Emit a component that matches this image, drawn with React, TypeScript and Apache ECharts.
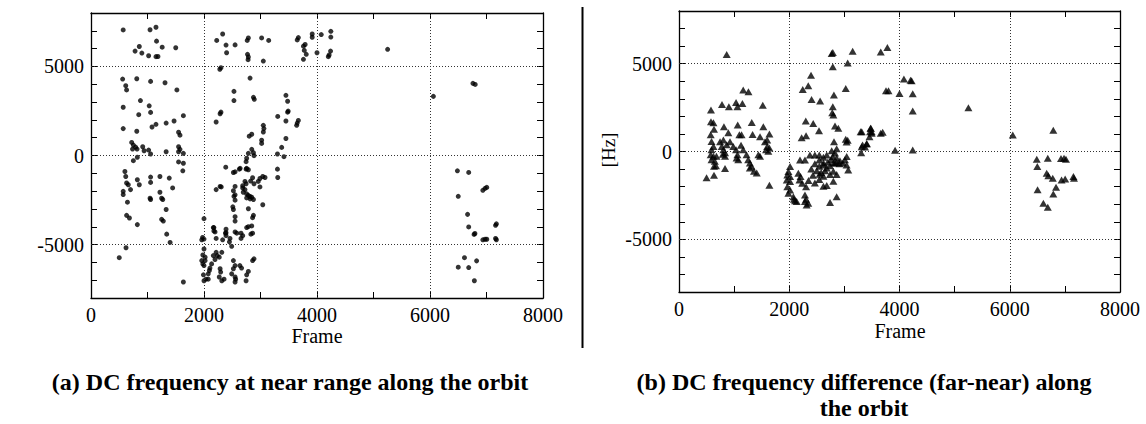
import React, { useEffect, useRef } from "react";
import * as echarts from "echarts";

const FONT = "Liberation Serif, Times New Roman, serif";

const frameRange = [0, 8000];
const hzRange = [-8000, 8000];
const gridFrames = [2000, 4000, 6000];
const gridHz = [-5000, 0, 5000];
const frameLabelStep = 2000;
const hzLabelStep = 5000;

const axisNames = { frame: "Frame", hz: "[Hz]" };
const captionA = "(a) DC frequency at near range along the orbit";
const captionB1 = "(b) DC frequency difference (far-near) along";
const captionB2 = "the orbit";

// (a) DC frequency at near range: [frame, Hz]
const nearRangePoints: [number, number][] = [
  [570, 7050], [1045, 7060], [1150, 7200], [1160, 6420], [1260, 6080], [1500, 6050], [855, 6120], [780, 5860],
  [900, 5750], [1020, 5600], [1150, 5550], [1185, 5560],
  [2225, 6460], [2330, 6820], [2390, 6200], [2400, 5770], [2550, 6210], [2785, 6600], [2765, 6460], [2770, 5680],
  [2785, 5530], [2780, 5380], [3020, 6600], [3145, 6460], [3050, 5300], [2280, 4840], [2300, 4930],
  [3650, 6490], [3670, 6620], [3760, 6140], [3790, 6230], [3775, 5900], [3810, 5680], [3760, 5400], [3915, 6820],
  [3915, 6640], [4000, 5770], [4075, 6790], [4245, 6970], [4245, 6650], [4240, 5860], [4215, 5640], [4200, 5550],
  [5250, 5960], [6760, 4050], [6800, 3990], [6060, 3320],
  [6485, -860], [6685, -950], [6935, -1955], [6975, -1845], [7005, -1790], [6500, -2290], [6665, -3305], [6685, -4010],
  [6780, -4430], [6795, -4380], [6935, -4735], [6975, -4700], [7005, -4700], [7160, -3920], [7175, -3840], [7160, -4660],
  [7175, -4730], [6610, -5735], [6500, -6270], [6685, -6290], [6825, -5915], [6785, -7030],
  [560, 4290], [615, 3920], [630, 3680], [810, 4310], [1055, 4160], [1310, 4085], [1520, 3680], [875, 3085],
  [570, 2710], [1030, 2790], [1055, 2420], [845, 2290], [1635, 2235], [1470, 1935], [1330, 1820], [1150, 1750],
  [1080, 1600], [570, 1510], [810, 1360], [1550, 1305], [1575, 1140], [720, 735], [750, 585], [735, 360],
  [815, 360], [790, 470], [915, 490], [940, 265], [1020, 305], [1055, 85], [1330, 210], [1550, 490],
  [1575, 345], [1550, 210], [1635, 120],
  [750, -290], [820, -100], [1550, -360], [1635, -435], [1625, -860], [600, -900], [615, -1180], [570, -2010],
  [570, -2195], [630, -1545], [660, -1640], [700, -1915], [820, -1360], [855, -1640], [1055, -1210], [1055, -1510],
  [1220, -1180], [1385, -1270], [1445, -1820], [1220, -2065], [1045, -2400], [1055, -2470], [1250, -2400], [1270, -2470],
  [645, -2620], [1330, -3030], [630, -3360], [680, -3510], [1250, -3585], [1280, -3680], [820, -3880], [1340, -4415],
  [1400, -4880], [620, -5180], [500, -5735], [1635, -7100],
  [2285, 2345], [2300, 2435], [2215, 1880], [3305, 2195], [3480, 2435], [3450, 1935], [3670, 1970], [3650, 1820],
  [3640, 1695], [3050, 1695], [3060, 1510], [3050, 1320], [2845, 1195], [2800, 1085], [3020, 860], [3020, 680],
  [3450, 955], [3375, 455], [3300, 85], [3415, -65], [2845, 345], [2875, 155], [2885, -10], [2785, 120],
  [2755, -155], [2745, -345],
  [2815, 4345], [2530, 3600], [2530, 3085], [2875, 3265], [2890, 3155], [3450, 3380], [3480, 3045], [3490, 2490],
  [2385, -655], [2640, -720], [2755, -720],
  [2520, -955], [2550, -915], [2625, -765], [2745, -765], [2785, -800], [3300, -765], [3305, -1235], [3040, -1180],
  [3080, -1235], [2990, -1290], [2860, -1250], [2825, -1435], [2885, -1585], [2960, -1455], [2990, -1765], [2215, -1915],
  [2285, -1735], [2305, -1765],
  [2685, -1820], [2725, -1915], [2695, -2065], [2755, -2155], [2785, -2235], [2815, -2300], [2845, -2345], [2530, -2290],
  [2550, -2510], [2755, -2380], [2815, -2435], [2875, -2470], [3040, -2765], [2785, -2990], [2510, -2880], [2520, -3030],
  [2875, -3360], [2860, -3490], [2550, -3435], [2550, -3680], [2845, -3955], [2785, -3995], [2755, -4045], [2000, -3545],
  [2175, -4045], [2175, -4235], [2195, -4290], [2390, -4140], [2380, -4360], [2550, -4290], [2580, -4360], [2655, -4360],
  [2685, -4500], [2830, -4415], [2860, -4360], [2460, -4655], [2450, -4845], [2490, -5100], [2330, -4735], [2390, -4500],
  [1975, -4600], [2000, -4690], [1960, -4735], [2655, -4655], [2215, -4655],
  [2725, -1455], [2745, -1585], [2685, -1695], [2550, -1735], [2520, -1980], [2550, -2210],
  [2000, -5250], [1980, -5585], [2020, -5710], [1960, -5900], [1980, -6085], [2000, -6180], [2020, -5900], [2215, -5435],
  [2235, -5620], [2195, -5840], [2165, -5620], [2270, -5710], [2315, -5435], [2135, -6085], [2105, -6320], [2095, -6455],
  [2075, -6645], [1990, -6700], [2000, -7030], [2035, -6945], [2075, -6945], [2285, -6360], [2295, -6545], [2270, -6820],
  [2315, -7030], [2355, -6945], [2520, -5900], [2550, -6180], [2520, -6360], [2490, -6645], [2550, -6820], [2635, -6180],
  [2665, -6320], [2560, -6945], [2550, -7100], [2785, -6510], [2755, -6700], [2745, -7030], [2860, -5900], [2885, -5800],
  [2390, -4330], [2165, -4045],
];

// (b) DC frequency difference (far-near): [frame, Hz]
const differencePoints: [number, number][] = [
  [865, 5520], [2770, 5580], [2790, 5640], [3150, 5710], [3660, 5670], [3780, 5920], [3060, 5045], [2790, 4820],
  [2395, 4345], [2345, 3740], [2245, 3535], [3025, 3590], [2810, 3210], [2405, 2965], [2560, 2870], [2790, 2545],
  [2780, 2205], [2800, 2075], [2300, 1735], [2435, 1600], [2540, 1180], [2830, 1450], [2890, 1320], [2225, 785],
  [2305, 900], [3025, 695], [3060, 635], [3040, 545],
  [3315, 1125], [3480, 1320], [3495, 1125], [3455, 840], [3405, 460], [3315, 275], [3305, -65], [3375, 255],
  [4080, 4135], [4200, 4060], [4220, 4025], [3755, 3455], [3800, 3455], [4000, 3305], [4240, 3290], [4240, 2300],
  [5250, 2490], [6055, 940], [6790, 1205], [3920, 70], [4240, 85],
  [3475, 1320], [3465, 1130], [3495, 1035], [3330, 370], [3405, 430], [3295, 1130], [3660, 1035], [3695, 1090],
  [6490, -445], [6500, -860], [6690, -390], [6505, -2185], [6670, -1240], [6700, -1375], [6780, -1525], [6840, -2035],
  [6790, -2415], [6610, -2945], [6690, -3175], [6930, -405], [6985, -390], [7020, -445], [6940, -1620], [7005, -1565],
  [7155, -1430], [7165, -1525],
  [580, 2360], [780, 2680], [905, 2545], [1035, 2795], [1060, 2545], [1150, 2740], [1165, 3495], [1260, 3400],
  [1520, 2640], [580, 1695], [625, 1635], [635, 1260], [815, 1410], [895, 1070], [1065, 1505], [1095, 955],
  [1135, 955], [1320, 1650], [1335, 975], [1530, 1410], [1470, 840], [1640, 990], [1600, 650],
  [575, 955], [590, 575], [625, 290], [590, 105], [575, -180], [625, -275], [590, -465], [650, -560],
  [680, -275], [635, -840], [670, -805],
  [745, 555], [805, 650], [775, 290], [805, 105], [865, 385], [835, -65], [795, -160], [835, -275],
  [925, 555], [985, 290], [1035, 105], [1060, -180], [1075, -465], [1045, -370],
  [1125, 350], [1165, 105], [1225, -180], [1255, -465], [1285, -655], [1315, -840], [1285, -935], [1360, -1125],
  [1410, -1220], [1440, -180], [1470, -275],
  [1560, 555], [1600, 290], [1640, 200], [1580, 105], [1620, 10],
  [500, -1490], [635, -1355], [835, -975], [1640, -1925],
  [2812, 557], [2860, 159], [2770, 42], [2830, -91], [2788, -280], [2860, -375], [2920, -527], [3010, -470],
  [3042, -280], [2970, -660], [2830, -660],
  [2195, -485], [2285, -485], [2375, -200], [2465, -200], [2545, -200], [2620, -330], [2680, -200], [2545, -485],
  [2465, -695], [2545, -845], [2620, -770], [2680, -940], [2740, -810], [2800, -660], [2860, -620], [2910, -695],
  [2800, -1125], [2860, -1315], [2740, -1315], [2620, -1410], [2545, -1600], [2465, -1790], [2620, -1980], [2680, -1940],
  [2800, -1700], [3040, -770], [3070, -1050], [2860, -2570], [2740, -2910],
  [2015, -860], [1985, -1145], [1965, -1335], [2015, -1430], [1955, -1620], [2015, -1715], [1965, -2000], [2015, -2190],
  [1985, -2380], [2075, -2570], [2105, -2810], [2135, -2850], [2085, -2720], [2165, -1240], [2205, -1430], [2185, -1620],
  [2235, -1810], [2305, -2000], [2285, -2470], [2305, -2720], [2345, -2945], [2315, -3040], [2285, -2850],
  [2400, -1000], [2500, -1100], [2580, -1200], [2650, -1100], [2700, -600], [2760, -450], [2620, -650], [2430, -1350],
  [2350, -1650], [2550, -1300],
];

const black = "#000";

function makeAxes(gridIndex: number) {
  const tick = { show: true, inside: true, length: 6, lineStyle: { color: black, width: 1 } };
  const line = { show: true, onZero: false, lineStyle: { color: black, width: 1.3 } };
  const labelStyle = { color: black, fontSize: 20, fontFamily: FONT };
  const xAxes = [
    {
      type: "value", gridIndex, position: "bottom", min: frameRange[0], max: frameRange[1], interval: 1000,
      axisLine: line, axisTick: tick, splitLine: { show: false },
      axisLabel: { ...labelStyle, margin: 7, formatter: (v: number) => (v % frameLabelStep === 0 ? String(v) : "") },
    },
    {
      type: "value", gridIndex, position: "top", min: frameRange[0], max: frameRange[1], interval: 1000,
      axisLine: line, axisTick: tick, splitLine: { show: false }, axisLabel: { show: false },
    },
  ];
  const yAxes = [
    {
      type: "value", gridIndex, position: "left", min: hzRange[0], max: hzRange[1], interval: 1000,
      axisLine: line, axisTick: tick, splitLine: { show: false },
      axisLabel: { ...labelStyle, margin: 7, formatter: (v: number) => (v % hzLabelStep === 0 ? String(v) : "") },
    },
    {
      type: "value", gridIndex, position: "right", min: hzRange[0], max: hzRange[1], interval: 1000,
      axisLine: line, axisTick: tick, splitLine: { show: false }, axisLabel: { show: false },
    },
  ];
  return { xAxes, yAxes };
}

const gridLines = {
  silent: true,
  symbol: ["none", "none"],
  label: { show: false },
  lineStyle: { type: [1, 2], color: "#333", width: 1 },
  data: [...gridFrames.map((v) => ({ xAxis: v })), ...gridHz.map((v) => ({ yAxis: v }))],
};

export default function App() {
  const ref = useRef<HTMLDivElement>(null);
  useEffect(() => {
    if (!ref.current) return;
    const chart = echarts.init(ref.current, undefined, { renderer: "svg" });
    const a = makeAxes(0);
    const b = makeAxes(1);
    const textStyle = (text: string, size: number, bold = false) => ({
      text,
      fill: black,
      fontFamily: FONT,
      fontSize: size,
      fontWeight: bold ? "bold" : "normal",
      align: "center",
      verticalAlign: "middle",
      textAlign: "center",
      textVerticalAlign: "middle",
    });
    chart.setOption({
      animation: false,
      backgroundColor: "#fff",
      grid: [
        { left: 91, top: 13, width: 452, height: 285 },
        { left: 679, top: 11, width: 441, height: 281 },
      ],
      xAxis: [...a.xAxes, ...b.xAxes],
      yAxis: [...a.yAxes, ...b.yAxes],
      series: [
        {
          type: "scatter", xAxisIndex: 0, yAxisIndex: 0, data: nearRangePoints,
          symbol: "circle", symbolSize: 5, itemStyle: { color: black }, markLine: gridLines, z: 3,
        },
        {
          type: "scatter", xAxisIndex: 2, yAxisIndex: 2, data: differencePoints,
          symbol: "triangle", symbolSize: [8, 7], itemStyle: { color: black }, markLine: gridLines, z: 3,
        },
      ],
      graphic: [
        { type: "line", shape: { x1: 582.5, y1: 7, x2: 582.5, y2: 348 }, style: { stroke: black, lineWidth: 2 } },
        { type: "text", x: 317, y: 336, style: textStyle(axisNames.frame, 20) },
        { type: "text", x: 900, y: 331, style: textStyle(axisNames.frame, 20) },
        { type: "text", x: 608, y: 150, rotation: Math.PI / 2, style: textStyle(axisNames.hz, 19) },
        { type: "text", x: 290, y: 382, style: textStyle(captionA, 24, true) },
        { type: "text", x: 864, y: 382, style: textStyle(captionB1, 24, true) },
        { type: "text", x: 864, y: 408, style: textStyle(captionB2, 24, true) },
      ],
    });
    return () => chart.dispose();
  }, []);
  return (
    <div
      ref={ref}
      style={{ position: "absolute", left: 0, top: 0, width: 1146, height: 424, background: "#fff" }}
    />
  );
}
